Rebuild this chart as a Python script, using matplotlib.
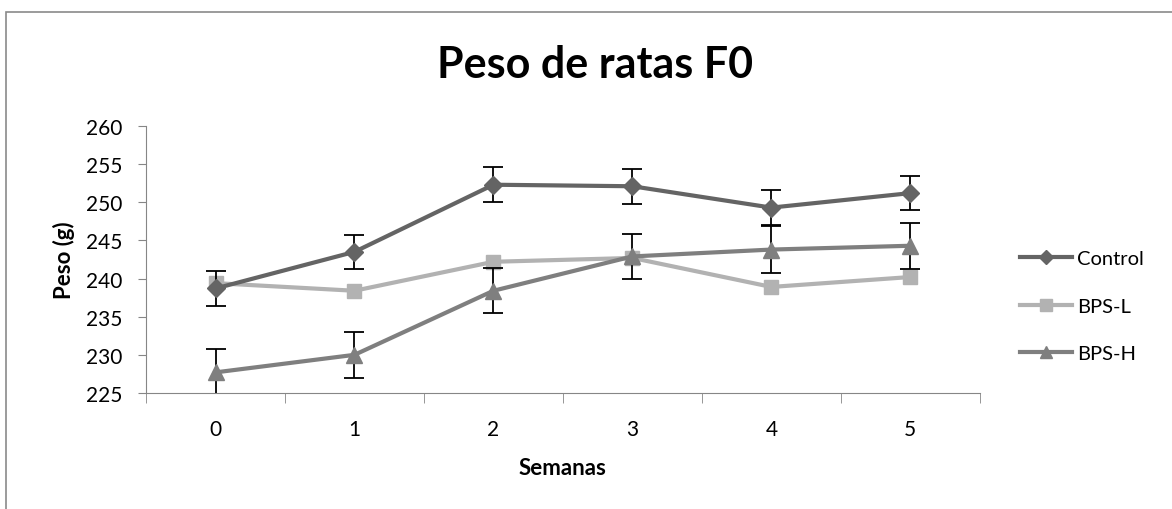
import numpy as np
import matplotlib
matplotlib.use("Agg")
import matplotlib.pyplot as plt
from matplotlib.lines import Line2D
from matplotlib.patches import Rectangle

plt.rcParams['font.family'] = ['Lato', 'DejaVu Sans']

# Data
semanas = [0, 1, 2, 3, 4, 5]
control = [238.7, 243.5, 252.3, 252.1, 249.3, 251.2]
control_err = [2.25, 2.25, 2.3, 2.3, 2.3, 2.25]
bps_l = [239.4, 238.4, 242.2, 242.7, 238.9, 240.2]
bps_h = [227.7, 230.0, 238.4, 242.9, 243.8, 244.3]
bps_h_err = [3.0, 3.0, 2.95, 3.0, 3.05, 3.0]

c_control = '#646464'
c_bpsl = '#b2b2b2'
c_bpsh = '#7f7f7f'

fig = plt.figure(figsize=(11.72, 5.10), dpi=100)
ax = fig.add_axes([0.1246, 0.2275, 0.7114, 0.5235])

ax.errorbar(semanas, control, yerr=control_err, color=c_control, lw=3,
            marker='D', ms=9, ecolor='black', elinewidth=1.3, capsize=7,
            capthick=1.3, zorder=3)
ax.plot(semanas, bps_l, color=c_bpsl, lw=3, marker='s', ms=10, zorder=2)
ax.errorbar(semanas, bps_h, yerr=bps_h_err, color=c_bpsh, lw=3,
            marker='^', ms=11, ecolor='black', elinewidth=1.3, capsize=7,
            capthick=1.3, zorder=4)

ax.set_xlim(-0.5, 5.5)
ax.set_ylim(225, 260)
ax.set_yticks(np.arange(225, 261, 5))
ax.set_xticks(semanas)
ax.set_xticks(np.arange(-0.5, 5.6, 1), minor=True)
ax.tick_params(axis='x', which='major', length=0, pad=19, labelsize=15)
ax.tick_params(axis='x', which='minor', length=7, color='#868686')
ax.tick_params(axis='y', length=6, color='#868686', labelsize=15, pad=11)
for s in ['top', 'right']:
    ax.spines[s].set_visible(False)
for s in ['left', 'bottom']:
    ax.spines[s].set_color('#868686')

ax.set_xlabel('Semanas', fontsize=16, fontweight='bold', labelpad=13)
ax.set_ylabel('Peso (g)', fontsize=16, fontweight='bold', labelpad=8)
fig.text(595 / 1172, 1 - 65 / 510, 'Peso de ratas F0', fontsize=31,
         fontweight='bold', ha='center', va='center')

handles = [
    Line2D([], [], color=c_control, lw=3, marker='D', ms=7),
    Line2D([], [], color=c_bpsl, lw=3, marker='s', ms=8),
    Line2D([], [], color=c_bpsh, lw=3, marker='^', ms=9),
]
fig.legend(handles, ['Control', 'BPS-L', 'BPS-H'], loc='center left',
           bbox_to_anchor=(1020 / 1172, 1 - 307 / 510), frameon=False,
           fontsize=14.5, labelspacing=1.52, handlelength=2.6,
           handletextpad=0.25, borderpad=0, borderaxespad=0)

fig.patches.append(Rectangle((6 / 1172, -0.1), 1.2, 1.1 - 13 / 510,
                             transform=fig.transFigure, fill=False,
                             edgecolor='#8a8a8a', lw=1.2))

fig.savefig('out.png', dpi=100)
